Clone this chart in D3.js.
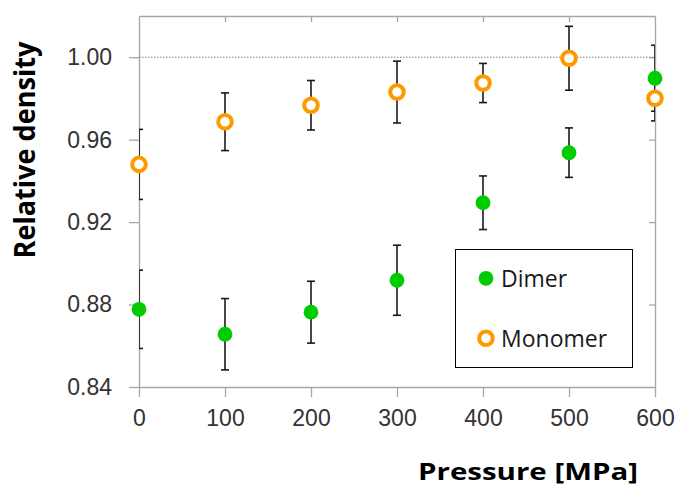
<!DOCTYPE html>
<html>
<head>
<meta charset="utf-8">
<script src="https://cdn.jsdelivr.net/npm/d3@7"></script>
<style>
  body { margin: 0; background: #fff; }
  svg { display: block; font-family: 'Open Sans', sans-serif; }
  .axis path, .axis line { stroke: #a6a6a6; stroke-width: 1.3; }
  .axis text { fill: #333; font-size: 23px; }
  .err { stroke: #1a1a1a; stroke-width: 1.6; }
  .title { font-weight: bold; fill: #000; }
  .legend text { font-size: 23px; fill: #1a1a1a; }
</style>
</head>
<body>
<div id="chart"></div>
<script>
// values
const pressure = [0, 100, 200, 300, 400, 500, 600]
const dimer = [0.8777, 0.8656, 0.8763, 0.8918, 0.9294, 0.9537, 0.9898]
const dimerErr = [0.019, 0.0173, 0.015, 0.017, 0.013, 0.012, 0.016]
const monomer = [0.948, 0.9687, 0.9767, 0.9831, 0.9875, 0.9995, 0.9801]
const monomerErr = [0.017, 0.014, 0.012, 0.015, 0.0095, 0.0155, 0.011]
const xTicks = [0, 100, 200, 300, 400, 500, 600]
const yTicks = [0.84, 0.88, 0.92, 0.96, 1.0]

const width = 679
const height = 490
const margin = { top: 16, right: 24, bottom: 103, left: 139 }
const innerWidth = width - margin.left - margin.right
const innerHeight = height - margin.top - margin.bottom

const green = '#00cc00'
const orange = '#ff9900'

const svg = d3.select('#chart')
  .append('svg')
  .attr('width', width)
  .attr('height', height)

const x = d3.scaleLinear().domain([0, 600]).range([0, innerWidth])
const y = d3.scaleLinear().domain([0.84, 1.02]).range([innerHeight, 0])

const g = svg.append('g')
  .attr('transform', `translate(${margin.left},${margin.top})`)

svg.append('defs').append('clipPath')
  .attr('id', 'plot-clip')
  .append('rect')
  .attr('width', innerWidth)
  .attr('height', innerHeight)

// mirrored frame: top and right with inward ticks, no labels
g.append('g')
  .attr('class', 'axis')
  .call(d3.axisTop(x).tickValues(xTicks.slice(1, -1)).tickSize(-6).tickSizeOuter(0).tickFormat(''))
g.append('g')
  .attr('class', 'axis')
  .attr('transform', `translate(${innerWidth},0)`)
  .call(d3.axisRight(y).tickValues(yTicks.slice(1)).tickSize(-6).tickSizeOuter(0).tickFormat(''))

// bottom axis
g.append('g')
  .attr('class', 'axis')
  .attr('transform', `translate(0,${innerHeight})`)
  .call(d3.axisBottom(x).tickValues(xTicks).tickSize(10).tickSizeOuter(0).tickPadding(13).tickFormat(d3.format('d')))

// left axis
g.append('g')
  .attr('class', 'axis')
  .call(d3.axisLeft(y).tickValues(yTicks).tickSize(10).tickSizeOuter(0).tickPadding(17).tickFormat(d3.format('.2f')))

g.selectAll('.axis .domain').attr('fill', 'none')

// dotted reference at 1.00
g.append('line')
  .attr('x1', 0)
  .attr('x2', innerWidth)
  .attr('y1', y(1.0))
  .attr('y2', y(1.0))
  .attr('stroke', '#808080')
  .attr('stroke-width', 1)
  .attr('stroke-dasharray', '1.5,1.5')

const series = [
  { name: 'Dimer', values: dimer, errs: dimerErr, fill: green, stroke: 'none' },
  { name: 'Monomer', values: monomer, errs: monomerErr, fill: '#fff', stroke: orange },
]

// error bars, clipped to the plot area
const errG = g.append('g').attr('clip-path', 'url(#plot-clip)')
series.forEach((s) => {
  const pts = pressure.map((p, i) => ({ p, v: s.values[i], e: s.errs[i] }))
  const eg = errG.append('g').selectAll('g').data(pts).join('g').attr('class', 'err')
  eg.append('line')
    .attr('x1', (d) => x(d.p)).attr('x2', (d) => x(d.p))
    .attr('y1', (d) => y(d.v + d.e)).attr('y2', (d) => y(d.v - d.e))
  eg.append('line')
    .attr('x1', (d) => x(d.p) - 4).attr('x2', (d) => x(d.p) + 4)
    .attr('y1', (d) => y(d.v + d.e)).attr('y2', (d) => y(d.v + d.e))
  eg.append('line')
    .attr('x1', (d) => x(d.p) - 4).attr('x2', (d) => x(d.p) + 4)
    .attr('y1', (d) => y(d.v - d.e)).attr('y2', (d) => y(d.v - d.e))
})

// markers
function drawMarker(sel, s) {
  if (s.stroke === 'none') {
    sel.attr('r', 7.4).attr('fill', s.fill)
  } else {
    sel.attr('r', 6.8).attr('fill', s.fill).attr('stroke', s.stroke).attr('stroke-width', 4)
  }
}
series.forEach((s) => {
  g.append('g').selectAll('circle')
    .data(pressure.map((p, i) => ({ p, v: s.values[i] })))
    .join('circle')
    .attr('cx', (d) => x(d.p))
    .attr('cy', (d) => y(d.v))
    .call(drawMarker, s)
})

// legend
const legend = svg.append('g').attr('class', 'legend')
legend.append('rect')
  .attr('x', 455.5).attr('y', 249.5)
  .attr('width', 177).attr('height', 118)
  .attr('fill', '#fff').attr('stroke', '#000').attr('stroke-width', 1)
const legendRows = legend.selectAll('g.row')
  .data(series)
  .join('g')
  .attr('class', 'row')
  .attr('transform', (d, i) => `translate(486,${278.3 + i * 60})`)
legendRows.append('circle').each(function (d) { d3.select(this).call(drawMarker, d) })
legendRows.append('text')
  .attr('x', 15)
  .attr('y', 8.4)
  .text((d) => d.name)

// axis titles
svg.append('text')
  .attr('class', 'title')
  .attr('x', 418)
  .attr('y', 480)
  .attr('font-size', 24)
  .attr('textLength', 220)
  .attr('lengthAdjust', 'spacingAndGlyphs')
  .text('Pressure [MPa]')

svg.append('text')
  .attr('class', 'title')
  .attr('transform', 'translate(35,150) rotate(-90)')
  .attr('text-anchor', 'middle')
  .attr('font-size', 28)
  .attr('textLength', 217)
  .attr('lengthAdjust', 'spacingAndGlyphs')
  .text('Relative density')
</script>
</body>
</html>
